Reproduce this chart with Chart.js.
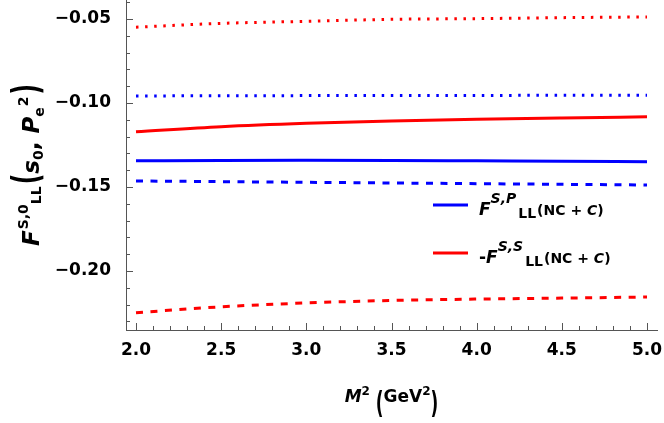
<!DOCTYPE html>
<html>
<head>
<meta charset="utf-8">
<script src="https://cdn.jsdelivr.net/npm/chart.js@4.4.1/dist/chart.umd.min.js"></script>
<style>
    html, body { margin: 0; padding: 0; background: #fff; }
    #wrap { width: 664px; height: 423px; }
</style>
</head>
<body>
<div id="wrap"><canvas id="SumRule"></canvas></div>
<script>
// M^2 in GeV^2
const m2 = [2.0, 2.5, 3.0, 3.5, 4.0, 4.5, 5.0];

// F^{S,P}_LL curves (blue)
const fsp_total = [-0.1344, -0.1342, -0.1341, -0.1342, -0.1344, -0.1346, -0.1349];
const fsp_dashed = [-0.1464, -0.1468, -0.1472, -0.1476, -0.1480, -0.1484, -0.1488];
const fsp_dotted = [-0.0958, -0.0957, -0.0956, -0.0955, -0.0955, -0.0954, -0.0954];

// -F^{S,S}_LL curves (red)
const fss_total = [-0.1171, -0.1141, -0.1121, -0.1107, -0.1097, -0.1089, -0.1082];
const fss_dashed = [-0.2248, -0.2213, -0.2190, -0.2175, -0.2167, -0.2161, -0.2155];
const fss_dotted = [-0.0549, -0.0526, -0.0514, -0.0502, -0.0498, -0.0492, -0.0488];

const x_ticks = [2.0, 2.5, 3.0, 3.5, 4.0, 4.5, 5.0];
const y_ticks = [-0.20, -0.15, -0.10, -0.05];

const BLUE = 'rgb(0,0,255)';
const RED = 'rgb(255,0,0)';
const FONT = '"DejaVu Sans"';
const AXIS_COLOR = '#555';

function points(ys) {
    return m2.map((x, i) => ({x: x, y: ys[i]}));
}

function curve(label, ys, color, dash) {
    return {
        label: label,
        data: points(ys),
        borderColor: color,
        backgroundColor: color,
        borderWidth: 3,
        borderDash: dash,
        borderCapStyle: 'butt',
        pointRadius: 0,
        cubicInterpolationMode: 'monotone',
        fill: false,
    };
}

// draws text pieces with sub/superscripts, returns end x
function drawRich(ctx, parts, x, y, measureOnly) {
    for (const p of parts) {
        ctx.font = (p.italic ? 'italic ' : '') + 'bold ' + p.size + 'px ' + FONT;
        const dx = p.dx || 0;
        if (!measureOnly) {
            ctx.save();
            ctx.translate(x + dx, y + (p.dy || 0));
            ctx.scale(1, p.sy || 1);
            ctx.fillText(p.t, 0, 0);
            ctx.restore();
        }
        x += dx + ctx.measureText(p.t).width;
    }
    return x;
}

const yTitle = [
    {t: 'F', size: 23, italic: true},
    {t: 'S,0', size: 14, dy: -11, dx: 1},
    {t: 'LL', size: 14, dy: 2},
    {t: '(', size: 23, sy: 1.6, dx: 2},
    {t: 's', size: 23, italic: true},
    {t: '0', size: 14, dy: 4},
    {t: ', ', size: 23},
    {t: 'P', size: 23, italic: true},
    {t: 'e', size: 14, dy: 5},
    {t: '2', size: 14, dy: -11, dx: 1},
    {t: ')', size: 23, sy: 1.6, dx: 2},
];

const xTitle = [
    {t: 'M', size: 17, italic: true},
    {t: '2', size: 12, dy: -7},
    {t: ' ', size: 17},
    {t: '(', size: 17, sy: 1.8, dy: 11},
    {t: 'GeV', size: 17},
    {t: '2', size: 12, dy: -7},
    {t: ')', size: 17, sy: 1.8, dy: 11},
];

const legendRows = [
    {dataset: 3, y: 205, parts: [
        {t: 'F', size: 17, italic: true},
        {t: 'S,P', size: 14, italic: true, dy: -12},
        {t: 'LL', size: 14, dy: 3, dx: 2},
        {t: '(NC + ', size: 14, dx: 1},
        {t: 'C', size: 14, italic: true},
        {t: ')', size: 14},
    ]},
    {dataset: 2, y: 253, parts: [
        {t: '-', size: 17},
        {t: 'F', size: 17, italic: true},
        {t: 'S,S', size: 14, italic: true, dy: -12},
        {t: 'LL', size: 14, dy: 3, dx: 2},
        {t: '(NC + ', size: 14, dx: 1},
        {t: 'C', size: 14, italic: true},
        {t: ')', size: 14},
    ]},
];

// inward tick marks, titles and legend
const decorations = {
    id: 'decorations',
    afterDraw(chart) {
        const ctx = chart.ctx;
        const area = chart.chartArea;
        const xs = chart.scales.x;
        const ys = chart.scales.y;

        ctx.save();
        ctx.strokeStyle = AXIS_COLOR;
        ctx.lineWidth = 1;
        ctx.beginPath();
        for (let k = -23; k <= -4; k++) {
            const py = Math.round(ys.getPixelForValue(k / 100)) + 0.5;
            const len = (k % 5 === 0) ? 7 : 4;
            ctx.moveTo(area.left, py);
            ctx.lineTo(area.left + len, py);
        }
        for (let k = 20; k <= 50; k++) {
            const px = Math.round(xs.getPixelForValue(k / 10)) + 0.5;
            const len = (k % 5 === 0) ? 7 : 4;
            ctx.moveTo(px, area.bottom);
            ctx.lineTo(px, area.bottom - len);
        }
        ctx.stroke();
        ctx.restore();

        ctx.save();
        ctx.fillStyle = '#000';
        ctx.textBaseline = 'alphabetic';
        ctx.textAlign = 'left';

        // x title
        let w = drawRich(ctx, xTitle, 0, 0, true);
        drawRich(ctx, xTitle, (area.left + area.right) / 2 - w / 2, 402);

        // y title, rotated
        w = drawRich(ctx, yTitle, 0, 0, true);
        ctx.save();
        ctx.translate(39, (area.top + area.bottom) / 2 + w / 2);
        ctx.rotate(-Math.PI / 2);
        drawRich(ctx, yTitle, 0, 0);
        ctx.restore();

        // legend
        for (const row of legendRows) {
            const ds = chart.data.datasets[row.dataset];
            ctx.save();
            ctx.strokeStyle = ds.borderColor;
            ctx.lineWidth = 3;
            ctx.beginPath();
            ctx.moveTo(433, row.y);
            ctx.lineTo(468, row.y);
            ctx.stroke();
            ctx.restore();
            drawRich(ctx, row.parts, 479, row.y + 10);
        }
        ctx.restore();
    }
};

new Chart(document.getElementById('SumRule'), {
    type: 'line',
    data: {
        datasets: [
            curve('red dotted', fss_dotted, RED, [2.5, 6.6]),
            curve('blue dotted', fsp_dotted, BLUE, [2.5, 6.6]),
            curve('-F^{S,S}_LL (NC + C)', fss_total, RED, []),
            curve('F^{S,P}_LL (NC + C)', fsp_total, BLUE, []),
            curve('blue dashed', fsp_dashed, BLUE, [7, 7.5]),
            curve('red dashed', fss_dashed, RED, [7, 7.5]),
        ]
    },
    options: {
        responsive: true,
        maintainAspectRatio: false,
        devicePixelRatio: 1,
        animation: false,
        layout: {
            padding: {top: 0, right: 7, bottom: 0, left: 0}
        },
        plugins: {
            legend: {display: false},
            tooltip: {enabled: false},
        },
        scales: {
            x: {
                type: 'linear',
                min: 1.9413,
                max: 5.0587,
                grid: {display: false},
                border: {display: true, color: AXIS_COLOR, width: 1},
                afterBuildTicks: (scale) => {
                    scale.ticks = x_ticks.map(v => ({value: v}));
                },
                afterFit: (scale) => {
                    scale.height = 93;
                    scale.paddingLeft = 0;
                    scale.paddingRight = 0;
                },
                ticks: {
                    color: '#000',
                    padding: 2,
                    maxRotation: 0,
                    autoSkip: false,
                    font: {family: FONT, weight: 'bold', size: 17},
                    callback: (value) => Number(value).toFixed(1),
                }
            },
            y: {
                type: 'linear',
                min: -0.2351,
                max: -0.0387,
                grid: {display: false},
                border: {display: true, color: AXIS_COLOR, width: 1},
                afterBuildTicks: (scale) => {
                    scale.ticks = y_ticks.map(v => ({value: v}));
                },
                afterFit: (scale) => {
                    scale.width = 126;
                    scale.paddingTop = 0;
                    scale.paddingBottom = 0;
                },
                ticks: {
                    color: '#000',
                    padding: 7,
                    autoSkip: false,
                    font: {family: FONT, weight: 'bold', size: 17},
                    callback: (value) => (value < 0 ? '\u2212' : '') + Math.abs(value).toFixed(2),
                }
            }
        }
    },
    plugins: [decorations]
});
</script>
</body>
</html>
